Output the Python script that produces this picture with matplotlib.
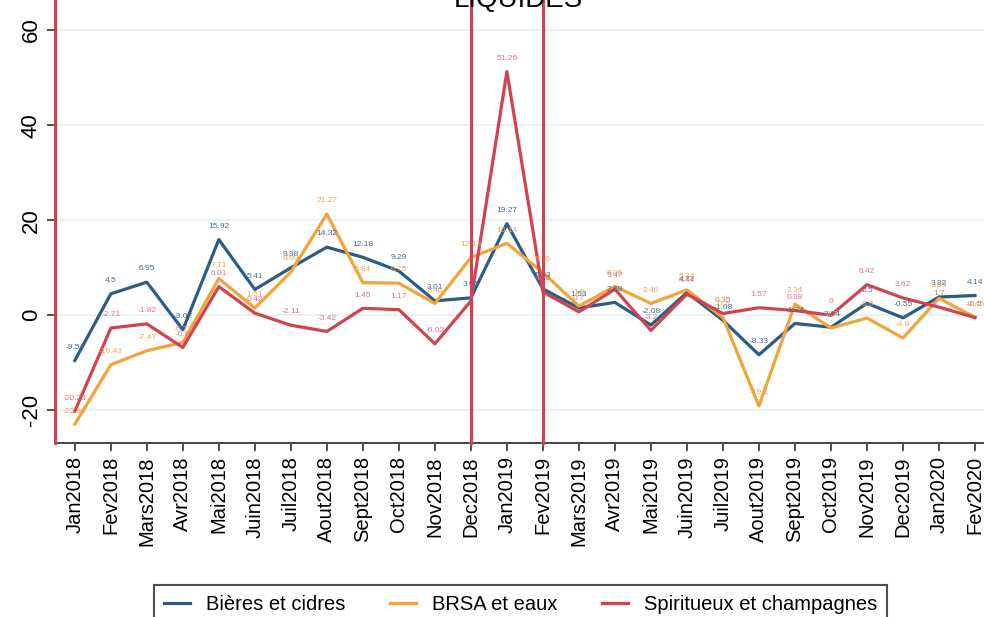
import matplotlib
matplotlib.use('Agg')
import matplotlib.pyplot as plt
import numpy as np

plt.rcParams['font.family'] = ['Liberation Sans', 'DejaVu Sans']

# month labels on the x axis
mois = ['Jan2018', 'Fev2018', 'Mars2018', 'Avr2018', 'Mai2018', 'Juin2018', 'Juil2018',
        'Aout2018', 'Sept2018', 'Oct2018', 'Nov2018', 'Dec2018', 'Jan2019', 'Fev2019',
        'Mars2019', 'Avr2019', 'Mai2019', 'Juin2019', 'Juil2019', 'Aout2019', 'Sept2019',
        'Oct2019', 'Nov2019', 'Dec2019', 'Jan2020', 'Fev2020']

# series values
bieres = [-9.54, 4.5, 6.95, -3.07, 15.92, 5.41, 9.98, 14.32, 12.18, 9.29, 3.01, 3.65,
          19.27, 5.53, 1.53, 2.69, -2.08, 4.77, -1.08, -8.33, -1.74, -2.54, 2.5, -0.55,
          3.82, 4.14]
brsa = [-22.95, -10.43, -7.47, -5.73, 7.71, 1.51, 9.09, 21.27, 6.84, 6.75, 2.46, 12.13,
        15.14, 8.96, 1.9, 6.05, 2.46, 5.34, -0.5, -19.1, 2.34, -2.7, -0.6, -4.8, 3.55,
        -0.45]
spiritueux = [-20.23, -2.71, -1.82, -6.8, 6.01, 0.42, -2.11, -3.42, 1.45, 1.17, -6.03,
              3.0, 51.26, 4.89, 0.7, 5.47, -3.2, 4.44, 0.35, 1.57, 0.98, 0.0, 6.42, 3.62,
              1.7, -0.5]

series = ['Bières et cidres', 'BRSA et eaux', 'Spiritueux et champagnes']
couleurs = ['#2c5c86', '#f2a33a', '#d2434f']
label_couleurs = ['#3f6c98', '#f0a458', '#e0747c']

# months with a vertical marker line
events = ['Dec2018', 'Fev2019']

x = np.arange(len(mois))

fig = plt.figure(figsize=(9.84, 6.17), dpi=100)
ax = fig.add_axes([55 / 984, 1 - 443 / 617, 1 - 55 / 984, 430 / 617])

for vals, nom, c, lc in zip([bieres, brsa, spiritueux], series, couleurs, label_couleurs):
    ax.plot(x, vals, color=c, linewidth=2.3, label=nom, zorder=3)
    for xi, v in zip(x, vals):
        txt = f'{round(v, 2):g}'
        ax.annotate(txt, (xi, v), xytext=(0, 7), textcoords='offset points',
                    ha='center', va='bottom', fontsize=6, color=lc, zorder=4)

ax.set_xlim(-0.55, 25.25)
ax.set_ylim(-26.9, 63.6)

# vertical red lines (left edge + events)
ytop = 443 / 430
ax.axvline(-0.55, ymin=0, ymax=ytop, color='#d2434f', linewidth=2.2, clip_on=False, zorder=5)
for ev in events:
    ax.axvline(mois.index(ev), ymin=0, ymax=ytop, color='#d2434f', linewidth=2.2,
               clip_on=False, zorder=5)

ax.set_yticks([-20, 0, 20, 40, 60])
ax.set_yticklabels(['-20', '0', '20', '40', '60'], rotation=90, va='center', fontsize=16)
ax.set_xticks(x)
ax.set_xticklabels(mois, rotation=90, fontsize=14.5)
ax.tick_params(axis='both', length=6, width=1.2, color='#333333')
ax.grid(axis='y', color='#e3f0f2', linewidth=1.2)
ax.set_axisbelow(True)

for s in ['top', 'right']:
    ax.spines[s].set_visible(False)
for s in ['left', 'bottom']:
    ax.spines[s].set_color('#444444')
    ax.spines[s].set_linewidth(1.4)

fig.text(0.527, 0.988, 'LIQUIDES', ha='center', va='baseline', fontsize=20)

leg = fig.legend(loc='upper center', bbox_to_anchor=(0.529, 0.068), ncol=3, fontsize=14.5,
                 frameon=True, fancybox=False, edgecolor='#222222', handlelength=1.3,
                 columnspacing=2.2, borderpad=0.5)
leg.get_frame().set_linewidth(1.5)

fig.savefig('out.png', dpi=100)
